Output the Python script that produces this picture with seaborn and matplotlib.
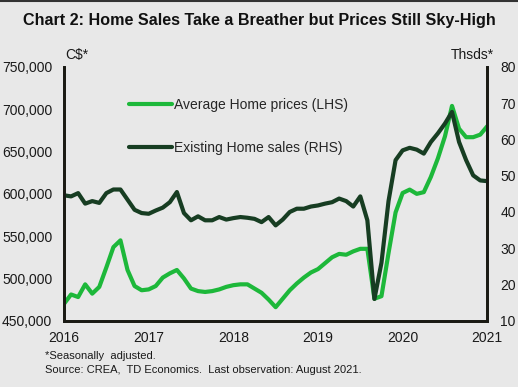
import numpy as np
import seaborn as sns
import matplotlib.pyplot as plt
from matplotlib.lines import Line2D

# monthly observations, last one is August 2021
month_idx = np.arange(61)
year_labels = ['2016', '2017', '2018', '2019', '2020', '2021']

# average home price, C$ thousands (LHS)
avg_price = [470, 481, 478, 493, 482, 490, 513, 537, 545, 510,
             491, 486, 487, 491, 501, 506, 510, 500, 488, 485,
             484, 485, 487, 490, 492, 493, 493, 488, 483, 475,
             466, 476, 486, 494, 501, 507, 511, 518, 525, 529,
             528, 532, 535, 535, 476, 479, 530, 578, 601, 605,
             600, 602, 620, 642, 668, 704, 677, 667, 667, 670,
             680]

# existing home sales, thousands (RHS)
home_sales = [44.6, 44.3, 45.2, 42.3, 43.0, 42.5, 45.2, 46.2, 46.2, 43.4,
              40.6, 39.7, 39.5, 40.4, 41.2, 42.7, 45.5, 39.7, 37.7, 38.8,
              37.7, 37.7, 38.6, 37.9, 38.3, 38.6, 38.4, 38.1, 37.2, 38.6,
              36.3, 37.9, 40.0, 40.9, 40.9, 41.5, 41.8, 42.3, 42.7, 43.7,
              43.0, 41.5, 44.3, 37.7, 16.0, 26.0, 43.0, 54.3, 57.0, 57.7,
              57.2, 56.1, 59.3, 61.7, 64.4, 67.6, 59.3, 54.3, 50.1, 48.7,
              48.5]

bg = '#E8E8E8'
green = '#1DB83A'
dark = '#173D22'
axis_col = '#1A1A14'

sns.set_theme(style="white")
plt.rcParams['font.family'] = ['Liberation Sans', 'DejaVu Sans']

fig = plt.figure(figsize=(5.18, 3.87), dpi=100, facecolor=bg)
ax = fig.add_axes([0.1236, 0.1713, 0.8171, 0.6556])
ax.set_facecolor(bg)

sns.lineplot(x=month_idx, y=np.array(avg_price) * 1000, ax=ax, color=green,
             linewidth=3, label='Average Home prices (LHS)', legend=False)
ax2 = ax.twinx()
sns.lineplot(x=month_idx, y=home_sales, ax=ax2, color=dark,
             linewidth=3, label='Existing Home sales (RHS)', legend=False)

ax.set_xlim(0, 60)
ax.set_ylim(450000, 750000)
ax2.set_ylim(10, 80)
ax.set_xticks(np.arange(0, 61, 12))
ax.set_xticklabels(year_labels)
ax.set_yticks(np.arange(450000, 750001, 50000))
ax.yaxis.set_major_formatter(plt.FuncFormatter(lambda v, p: f'{int(v):,}'))
ax2.set_yticks(np.arange(10, 81, 10))
ax.set_xlabel('')
ax.set_ylabel('')
ax2.set_ylabel('')

for a in (ax, ax2):
    a.tick_params(length=0, labelsize=10, colors='#1a1a1a')
    a.spines['top'].set_visible(False)
    for s in ('left', 'right', 'bottom'):
        a.spines[s].set_color(axis_col)
        a.spines[s].set_linewidth(2)
ax.tick_params(axis='y', pad=8.5)
ax.tick_params(axis='x', pad=7.5)
ax2.tick_params(axis='y', pad=9.5)

handles = [Line2D([], [], color=green, linewidth=3),
           Line2D([], [], color=dark, linewidth=3)]
ax2.legend(handles, ['Average Home prices (LHS)', 'Existing Home sales (RHS)'],
           loc='center left', bbox_to_anchor=(0.153, 0.765), frameon=False,
           fontsize=10, handlelength=3.1, handletextpad=0.15, labelspacing=2.1,
           borderpad=0, borderaxespad=0)

fig.text(0.5, 0.947, 'Chart 2: Home Sales Take a Breather but Prices Still Sky-High',
         ha='center', va='center', fontsize=11.6, fontweight='bold', color='#111111')
fig.text(77 / 518, 1 - 55 / 387, 'C$*', ha='center', va='center', fontsize=10, color='#1a1a1a')
fig.text(472 / 518, 1 - 55 / 387, 'Thsds*', ha='center', va='center', fontsize=10, color='#1a1a1a')
fig.text(45 / 518, 1 - 356 / 387, '*Seasonally  adjusted.', ha='left', va='center',
         fontsize=8, color='#1a1a1a')
fig.text(45 / 518, 1 - 370 / 387, 'Source: CREA,  TD Economics.  Last observation: August 2021.',
         ha='left', va='center', fontsize=8, color='#1a1a1a')
fig.add_artist(Line2D([0, 1], [0.998, 0.998], color='#333333', linewidth=1.5))

fig.savefig('out.png', dpi=100, facecolor=bg)
